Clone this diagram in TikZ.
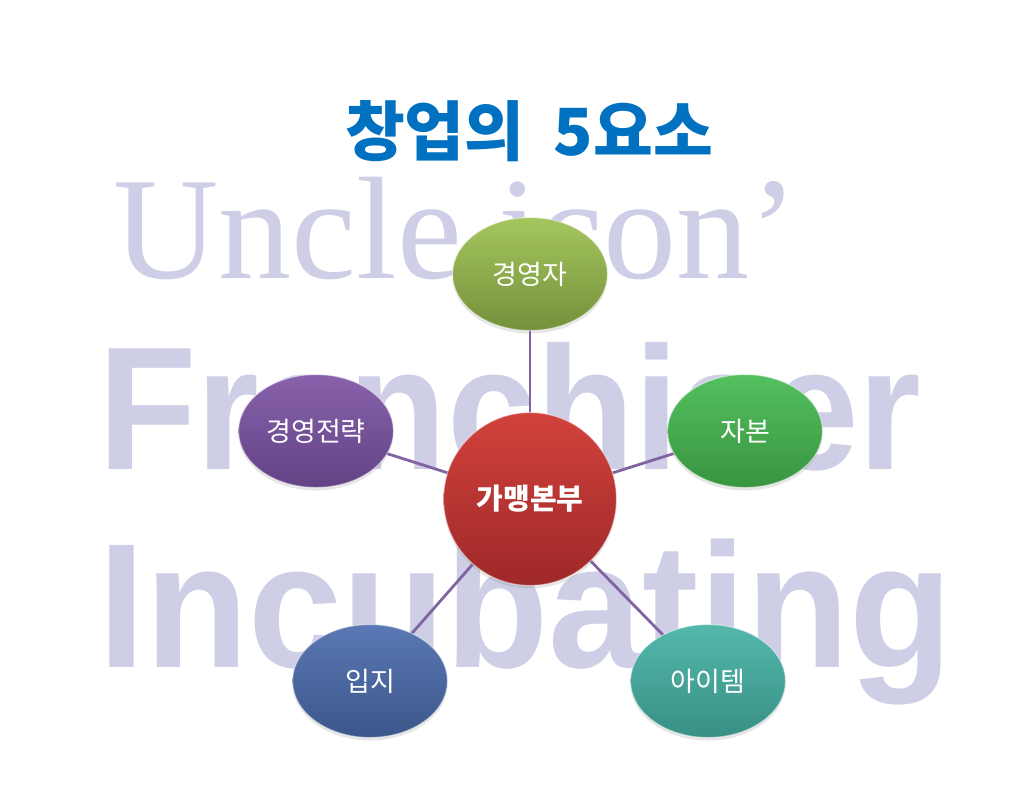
\documentclass[tikz,border=0pt]{standalone}
\usepackage{fontspec}
\newfontfamily\krfont{Noto Sans CJK KR}
\newfontfamily\wmserif{Liberation Serif}
\newfontfamily\wmsans{Liberation Sans}
\usetikzlibrary{shapes.geometric,shadows}
\definecolor{titleblue}{RGB}{0,112,192}
\definecolor{wmcol}{RGB}{206,206,230}
\definecolor{spokecol}{RGB}{128,100,162}
\definecolor{redtop}{RGB}{210,66,60}
\definecolor{redbot}{RGB}{158,40,40}
\definecolor{olivetop}{RGB}{165,198,94}
\definecolor{olivebot}{RGB}{116,144,58}
\definecolor{greentop}{RGB}{84,192,94}
\definecolor{greenbot}{RGB}{56,148,64}
\definecolor{tealtop}{RGB}{84,184,172}
\definecolor{tealbot}{RGB}{56,143,133}
\definecolor{bluetop}{RGB}{90,120,180}
\definecolor{bluebot}{RGB}{60,86,138}
\definecolor{purpletop}{RGB}{136,98,172}
\definecolor{purplebot}{RGB}{98,66,133}
\pgfdeclarelayer{back}
\pgfdeclarelayer{spokes}
\pgfsetlayers{back,spokes,main}

\begin{document}
\begin{tikzpicture}[x=1pt,y=-1pt]
					\tikzstyle{bubble}=[ellipse,minimum width=155pt,minimum height=113pt,inner sep=0pt,draw=white,draw opacity=0.45,line width=1.2pt,text=white,font=\krfont\fontsize{27}{27}\selectfont,drop shadow={opacity=0.2,shadow xshift=0pt,shadow yshift=-3pt}]
					\tikzstyle{hub}=[bubble,circle,minimum size=173pt,font=\krfont\bfseries\fontsize{29}{29}\selectfont]
					\tikzstyle{watermark}=[anchor=base west,inner sep=0pt,text=wmcol]
					\tikzstyle{spoke}=[draw=spokecol,line width=2.8pt]
					\useasboundingbox (0,0) rectangle (1024,790);
					% watermark
					\begin{pgfonlayer}{back}
					\node[watermark,font=\wmserif\fontsize{146}{146}\selectfont] (w1) at (113,278) {Uncle icon’};
					\node[watermark,font=\wmsans\bfseries\fontsize{161}{161}\selectfont,yscale=1.09] (w2) at (98,469) {Franchiser};
					\node[watermark,font=\wmsans\bfseries\fontsize{169}{169}\selectfont,yscale=1.05] (w3) at (98,667) {Incubating};
					\end{pgfonlayer}
					% title
					\node[text=titleblue,font=\krfont\bfseries\fontsize{65}{65}\selectfont,anchor=base] (title) at (529,155) {창업의\hspace{0.45em}5요소};
					% elements
					\node[hub,top color=redtop,bottom color=redbot] (hq) at (530,499) {가맹본부};
					\node[bubble,top color=olivetop,bottom color=olivebot] (ceo) at (530,274) {경영자};
					\node[bubble,top color=greentop,bottom color=greenbot] (capital) at (745,431) {자본};
					\node[bubble,top color=tealtop,bottom color=tealbot] (item) at (708,681) {아이템};
					\node[bubble,top color=bluetop,bottom color=bluebot] (site) at (370,681) {입지};
					\node[bubble,top color=purpletop,bottom color=purplebot] (strategy) at (316,431) {경영전략};
					\begin{pgfonlayer}{spokes}
					\draw[spoke] (hq.center) -- (ceo.center);
					\draw[spoke] (hq.center) -- (capital.center);
					\draw[spoke] (hq.center) -- (item.center);
					\draw[spoke] (hq.center) -- (site.center);
					\draw[spoke] (hq.center) -- (strategy.center);
					\end{pgfonlayer}
\end{tikzpicture}
\end{document}
